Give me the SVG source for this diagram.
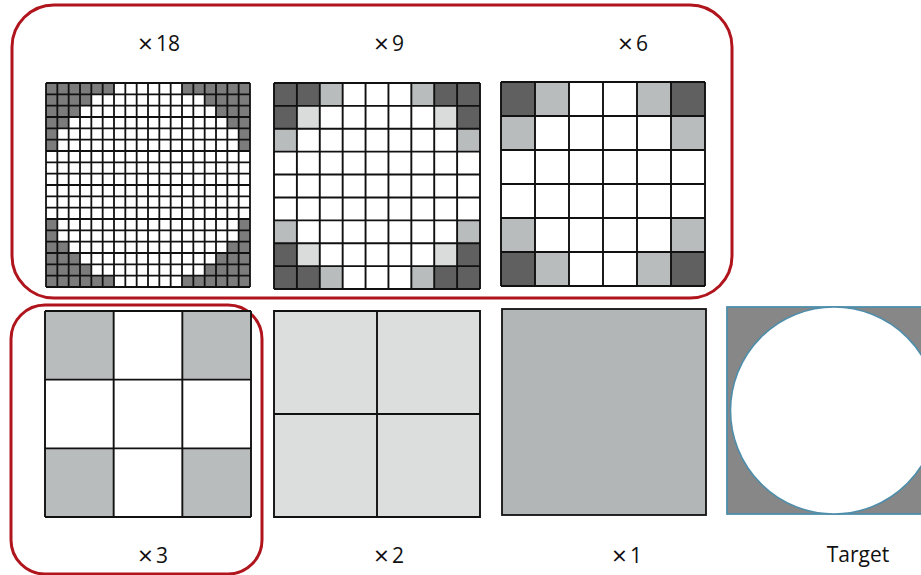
<svg xmlns="http://www.w3.org/2000/svg" width="921" height="575" viewBox="0 0 921 575">
<defs>
<style>
.lbl{font-family:"Open Sans","Liberation Sans",sans-serif;font-size:21px;fill:#111;text-anchor:middle}
.x{font-size:26px}
.grid{fill:none;stroke:#111;stroke-width:1.8;vector-effect:non-scaling-stroke}
.gridT{fill:none;stroke:#111;stroke-width:1.9;vector-effect:non-scaling-stroke}
.d18{fill:#7c7c7c}
.dk{fill:#606060}
.half{fill:#b8bcbc}
.qtr{fill:#dadcdc}
.frame{fill:none;stroke:#b0151d;stroke-width:3}
</style>
</defs>
<rect width="921" height="575" fill="#fff"/>

<g id="frame-top"><rect class="frame" x="12" y="5" width="720" height="293" rx="42"/></g>
<g id="frame-x3"><rect class="frame" x="11" y="305" width="251" height="269" rx="34"/></g>

<g id="grid18">
<g transform="translate(46,83) scale(11.3333)">
<g class="d18">
<rect x="0" y="0" width="6" height="1"/><rect x="12" y="0" width="6" height="1"/>
<rect x="0" y="1" width="4" height="1"/><rect x="14" y="1" width="4" height="1"/>
<rect x="0" y="2" width="3" height="1"/><rect x="15" y="2" width="3" height="1"/>
<rect x="0" y="3" width="2" height="1"/><rect x="16" y="3" width="2" height="1"/>
<rect x="0" y="4" width="1" height="2"/><rect x="17" y="4" width="1" height="2"/>
<rect x="0" y="12" width="1" height="2"/><rect x="17" y="12" width="1" height="2"/>
<rect x="0" y="14" width="2" height="1"/><rect x="16" y="14" width="2" height="1"/>
<rect x="0" y="15" width="3" height="1"/><rect x="15" y="15" width="3" height="1"/>
<rect x="0" y="16" width="4" height="1"/><rect x="14" y="16" width="4" height="1"/>
<rect x="0" y="17" width="6" height="1"/><rect x="12" y="17" width="6" height="1"/>
</g>
<path class="grid" d="M0 0V18M1 0V18M2 0V18M3 0V18M4 0V18M5 0V18M6 0V18M7 0V18M8 0V18M9 0V18M10 0V18M11 0V18M12 0V18M13 0V18M14 0V18M15 0V18M16 0V18M17 0V18M18 0V18M0 0H18M0 1H18M0 2H18M0 3H18M0 4H18M0 5H18M0 6H18M0 7H18M0 8H18M0 9H18M0 10H18M0 11H18M0 12H18M0 13H18M0 14H18M0 15H18M0 16H18M0 17H18M0 18H18"/>
</g>
<text class="lbl" x="159" y="51"><tspan class="x" dy="2">×</tspan><tspan dx="3" dy="-2">18</tspan></text>
</g>

<g id="grid9">
<g transform="translate(274,83) scale(22.889)">
<g class="dk">
<rect x="0" y="0" width="2" height="1"/><rect x="0" y="1" width="1" height="1"/>
<rect x="7" y="0" width="2" height="1"/><rect x="8" y="1" width="1" height="1"/>
<rect x="0" y="8" width="2" height="1"/><rect x="0" y="7" width="1" height="1"/>
<rect x="7" y="8" width="2" height="1"/><rect x="8" y="7" width="1" height="1"/>
</g>
<g class="half">
<rect x="2" y="0" width="1" height="1"/><rect x="6" y="0" width="1" height="1"/>
<rect x="0" y="2" width="1" height="1"/><rect x="8" y="2" width="1" height="1"/>
<rect x="0" y="6" width="1" height="1"/><rect x="8" y="6" width="1" height="1"/>
<rect x="2" y="8" width="1" height="1"/><rect x="6" y="8" width="1" height="1"/>
</g>
<g class="qtr">
<rect x="1" y="1" width="1" height="1"/><rect x="7" y="1" width="1" height="1"/>
<rect x="1" y="7" width="1" height="1"/><rect x="7" y="7" width="1" height="1"/>
</g>
<path class="gridT" d="M0 0V9M1 0V9M2 0V9M3 0V9M4 0V9M5 0V9M6 0V9M7 0V9M8 0V9M9 0V9M0 0H9M0 1H9M0 2H9M0 3H9M0 4H9M0 5H9M0 6H9M0 7H9M0 8H9M0 9H9"/>
</g>
<text class="lbl" x="389" y="51"><tspan class="x" dy="2">×</tspan><tspan dx="3" dy="-2">9</tspan></text>
</g>

<g id="grid6">
<g transform="translate(501,82) scale(34)">
<g class="dk">
<rect x="0" y="0" width="1" height="1"/><rect x="5" y="0" width="1" height="1"/>
<rect x="0" y="5" width="1" height="1"/><rect x="5" y="5" width="1" height="1"/>
</g>
<g class="half">
<rect x="1" y="0" width="1" height="1"/><rect x="4" y="0" width="1" height="1"/>
<rect x="0" y="1" width="1" height="1"/><rect x="5" y="1" width="1" height="1"/>
<rect x="0" y="4" width="1" height="1"/><rect x="5" y="4" width="1" height="1"/>
<rect x="1" y="5" width="1" height="1"/><rect x="4" y="5" width="1" height="1"/>
</g>
<path class="gridT" d="M0 0V6M1 0V6M2 0V6M3 0V6M4 0V6M5 0V6M6 0V6M0 0H6M0 1H6M0 2H6M0 3H6M0 4H6M0 5H6M0 6H6"/>
</g>
<text class="lbl" x="633" y="51"><tspan class="x" dy="2">×</tspan><tspan dx="3" dy="-2">6</tspan></text>
</g>

<g id="grid3">
<g transform="translate(45,311) scale(68.667)">
<g class="half">
<rect x="0" y="0" width="1" height="1"/><rect x="2" y="0" width="1" height="1"/>
<rect x="0" y="2" width="1" height="1"/><rect x="2" y="2" width="1" height="1"/>
</g>
<path class="gridT" d="M0 0V3M1 0V3M2 0V3M3 0V3M0 0H3M0 1H3M0 2H3M0 3H3"/>
</g>
<text class="lbl" x="153" y="563"><tspan class="x" dy="2">×</tspan><tspan dx="3" dy="-2">3</tspan></text>
</g>

<g id="grid2">
<rect x="274" y="311" width="206" height="206" fill="#dcdedd"/>
<path class="gridT" d="M274 311H480V517H274ZM377 311V517M274 414H480"/>
<text class="lbl" x="389" y="563"><tspan class="x" dy="2">×</tspan><tspan dx="3" dy="-2">2</tspan></text>
</g>

<g id="grid1">
<rect x="502" y="309" width="204" height="206" fill="#b3b6b6" stroke="#111" stroke-width="1.8"/>
<text class="lbl" x="627" y="563"><tspan class="x" dy="2">×</tspan><tspan dx="3" dy="-2">1</tspan></text>
</g>

<g id="target">
<rect x="727" y="307" width="210" height="207" fill="#878787" stroke="#4f8eaa" stroke-width="1.8"/>
<circle cx="834" cy="410.5" r="103.5" fill="#fff" stroke="#4f8eaa" stroke-width="1.6"/>
<text class="lbl" x="858" y="562">Target</text>
</g>

<g id="connectors"></g>
</svg>
